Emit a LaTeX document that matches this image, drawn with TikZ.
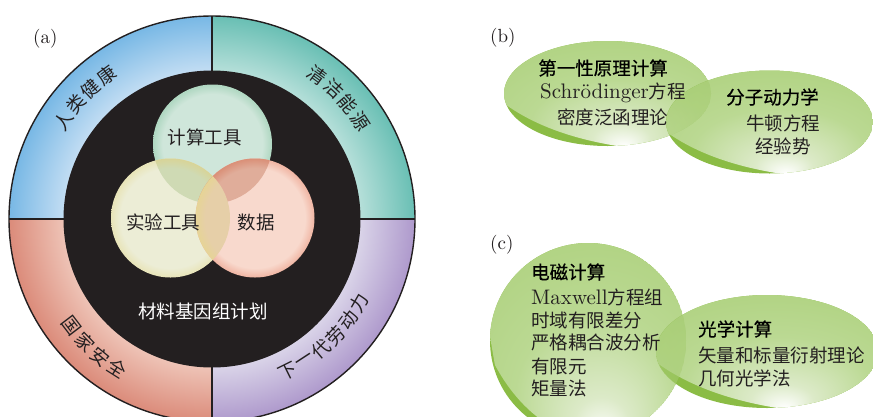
\documentclass[tikz,border=0pt]{standalone}
\usepackage{fontspec}
\newfontfamily\cjk{Noto Sans CJK SC}
\newfontfamily\cjkb{Noto Sans CJK SC}[FakeBold=0.5]
\newfontfamily\lat{lmroman10-regular}[Extension=.otf]
\usetikzlibrary{calc}
\definecolor{ink}{HTML}{231F20}
\definecolor{blueL}{HTML}{C2DDF3}\definecolor{blueD}{HTML}{78B8E5}
\definecolor{tealL}{HTML}{B5DFD9}\definecolor{tealD}{HTML}{69BFB4}
\definecolor{purpL}{HTML}{D9D3E8}\definecolor{purpD}{HTML}{AE99CC}
\definecolor{redL}{HTML}{EEC3B6}\definecolor{redD}{HTML}{DB8B7A}
\definecolor{gnI}{HTML}{CFE6DA}\definecolor{gnO}{HTML}{AFD7C1}
\definecolor{ylI}{HTML}{ECEDD6}\definecolor{ylO}{HTML}{E8E4B8}
\definecolor{pkI}{HTML}{F8D9CD}\definecolor{pkO}{HTML}{F0B5A3}
\definecolor{tlI}{HTML}{CFDAB4}\definecolor{tlO}{HTML}{D8D498}
\definecolor{trI}{HTML}{E0AD9A}\definecolor{trO}{HTML}{DA9078}
\definecolor{ctI}{HTML}{E6CFA8}\definecolor{ctO}{HTML}{E6D496}
\definecolor{leafA}{HTML}{A5CC70}\definecolor{leafB}{HTML}{BBD993}
\definecolor{leafC}{HTML}{DCEAC8}\definecolor{leafD}{HTML}{8BBC45}
\pgfdeclareradialshading{ringblue}{\pgfpoint{0bp}{0bp}}{color(0bp)=(blueL); color(18.25bp)=(blueL); color(25bp)=(blueD); color(50bp)=(blueD)}
\pgfdeclareradialshading{ringteal}{\pgfpoint{0bp}{0bp}}{color(0bp)=(tealL); color(18.25bp)=(tealL); color(25bp)=(tealD); color(50bp)=(tealD)}
\pgfdeclareradialshading{ringpurp}{\pgfpoint{0bp}{0bp}}{color(0bp)=(purpL); color(18.25bp)=(purpL); color(25bp)=(purpD); color(50bp)=(purpD)}
\pgfdeclareradialshading{ringred}{\pgfpoint{0bp}{0bp}}{color(0bp)=(redL); color(18.25bp)=(redL); color(25bp)=(redD); color(50bp)=(redD)}
\newcommand{\vennshade}[3]{\pgfdeclareradialshading{#1}{\pgfpoint{0bp}{0bp}}{color(0bp)=(#2); color(21bp)=(#2); color(25bp)=(#3); color(50bp)=(#3)}}
\vennshade{vgreen}{gnI}{gnO}
\vennshade{vyellow}{ylI}{ylO}
\vennshade{vpink}{pkI}{pkO}
\vennshade{vtl}{tlI}{tlO}
\vennshade{vtr}{trI}{trO}
\vennshade{vct}{ctI}{ctO}
\pgfdeclareradialshading{leafglow}{\pgfpoint{4bp}{-25bp}}{color(0bp)=(white); color(7bp)=(leafC); color(21bp)=(leafB); color(50bp)=(leafA)}
\tikzset{
  lab/.style={inner sep=0pt,text=ink,font=\fontsize{18.5}{18.5}\selectfont\cjk},
  head/.style={inner sep=0pt,text=black,font=\fontsize{18.5}{18.5}\selectfont\cjkb},
  tag/.style={inner sep=0pt,text=ink,font=\fontsize{19}{19}\selectfont\lat},
  ringch/.style={inner sep=0pt,text=ink,font=\fontsize{18.5}{18.5}\selectfont\cjk},
}
\newcommand{\latin}[1]{{\fontsize{21}{21}\selectfont\lat #1}}
\newcommand{\leaf}[4]{%
  \begin{scope}
    \clip (#1,#2) ellipse [x radius=#3,y radius=#4];
    \fill[leafD] (#1,#2) ellipse [x radius=#3,y radius=#4];
    \clip ($(#1,#2)+(-1.1*#3,0.03*#4)$) .. controls ($(#1,#2)+(-0.78*#3,0.58*#4)$) and ($(#1,#2)+(-0.33*#3,0.88*#4)$) .. ($(#1,#2)+(0.16*#3,1.02*#4)$)
      -- ($(#1,#2)+(1.2*#3,1.2*#4)$) -- ($(#1,#2)+(1.2*#3,-1.2*#4)$) -- ($(#1,#2)+(-1.2*#3,-1.2*#4)$) -- cycle;
    \shade[shading=leafglow] (#1,#2) ellipse [x radius=#3,y radius=#4];
  \end{scope}}
\newcommand{\roundleaf}[4]{%
  \begin{scope}
    \clip (#1,#2) ellipse [x radius=#3,y radius=#4];
    \fill[leafD] (#1,#2) ellipse [x radius=#3,y radius=#4];
    \clip ($(#1,#2)+(-0.95*#3,0.25*#4)$) .. controls ($(#1,#2)+(-0.70*#3,0.72*#4)$) and ($(#1,#2)+(-0.33*#3,0.98*#4)$) .. ($(#1,#2)+(0.03*#3,1.02*#4)$)
      -- ($(#1,#2)+(1.2*#3,1.2*#4)$) -- ($(#1,#2)+(1.2*#3,-1.2*#4)$) -- ($(#1,#2)+(-1.2*#3,-1.2*#4)$) -- cycle;
    \shade[shading=leafglow] (#1,#2) ellipse [x radius=#3,y radius=#4];
  \end{scope}}
\begin{document}
\begin{tikzpicture}[x=1pt,y=-1pt]
\useasboundingbox (0,0) rectangle (873,416);
\fill[white] (0,0) rectangle (873,416);
\coordinate (O) at (212,219);
% quadrants
\begin{scope}
  \clip (0,0) rectangle (212,219);
  \shade[shading=ringblue] (O) circle [radius=203];
\end{scope}
\begin{scope}
  \clip (212,0) rectangle (430,219);
  \shade[shading=ringteal] (O) circle [radius=203];
\end{scope}
\begin{scope}
  \clip (0,219) rectangle (212,430);
  \shade[shading=ringred] (O) circle [radius=203];
\end{scope}
\begin{scope}
  \clip (212,219) rectangle (430,430);
  \shade[shading=ringpurp] (O) circle [radius=203];
\end{scope}
\draw[ink,line width=1.4pt] (O) circle [radius=203];
\draw[ink,line width=1.4pt] (212,16) -- (212,422) (9,219) -- (415,219);
\fill[ink] (O) circle [radius=148.5];
% venn
\coordinate (T) at (212.5,144);
\coordinate (L) at (170.5,218);
\coordinate (R) at (255,218);
\shade[shading=vgreen] (T) circle [radius=59.5];
\shade[shading=vyellow] (L) circle [radius=59.5];
\shade[shading=vpink] (R) circle [radius=59.5];
\begin{scope}
  \clip (T) circle [radius=59.5];
  \shade[shading=vtl] (L) circle [radius=59.5];
\end{scope}
\begin{scope}
  \clip (T) circle [radius=59.5];
  \shade[shading=vtr] (R) circle [radius=59.5];
\end{scope}
\begin{scope}
  \clip (L) circle [radius=59.5];
  \shade[shading=vct] (R) circle [radius=59.5];
\end{scope}
\node[lab] (n1) at (204.5,137) {计算工具};
\node[lab] (n2) at (163,222) {实验工具};
\node[lab] (n3) at (256,222) {数据};
\node[lab,text=white] (n4) at (203,311) {材料基因组计划};
% ring labels
\foreach \c [count=\i from 0] in {人,类,健,康}
  \node[ringch,rotate=146.7-6.8*\i-90] (qa\i) at ($(O)+({178*cos(146.7-6.8*\i)},{-178*sin(146.7-6.8*\i)})$) {\c};
\foreach \c [count=\i from 0] in {清,洁,能,源}
  \node[ringch,rotate=53.7-6.8*\i-90] (qb\i) at ($(O)+({178*cos(53.7-6.8*\i)},{-178*sin(53.7-6.8*\i)})$) {\c};
\foreach \c [count=\i from 0] in {国,家,安,全}
  \node[ringch,rotate=217.3+6.8*\i+90] (qc\i) at ($(O)+({177*cos(217.3+6.8*\i)},{-177*sin(217.3+6.8*\i)})$) {\c};
\foreach \c [count=\i from 0] in {下,一,代,劳,动,力}
  \node[ringch,rotate=-63.6+6.76*\i+90] (qd\i) at ($(O)+({170*cos(-63.6+6.76*\i)},{-170*sin(-63.6+6.76*\i)})$) {\c};
\node[tag,anchor=west] (ta) at (33,39) {(a)};
\node[tag,anchor=west] (tb) at (490,38) {(b)};
\node[tag,anchor=west] (tc) at (490,245) {(c)};
% panel b
\leaf{607.5}{93.5}{103.5}{52.5}
\leaf{769.5}{122}{103.5}{51.5}
\begin{scope}
  \clip (769.5,122) ellipse [x radius=103.5,y radius=51.5];
  \begin{scope}[transparency group,opacity=.4]
    \leaf{607.5}{93.5}{103.5}{52.5}
  \end{scope}
  \fill[leafD,opacity=.22] (607.5,93.5) ellipse [x radius=103.5,y radius=52.5];
\end{scope}
\node[head] (b1) at (603,68) {第一性原理计算};
\node[lab,anchor=west] (b2) at (540,93) {\latin{Schrödinger}方程};
\node[lab] (b3) at (612.5,117) {密度泛函理论};
\node[head] (b4) at (772.5,97) {分子动力学};
\node[lab] (b5) at (783,123) {牛顿方程};
\node[lab] (b6) at (783,146) {经验势};
% panel c
\roundleaf{588}{340.5}{98}{97.5}
\leaf{767}{351.5}{111}{56.5}
\begin{scope}
  \clip (767,351.5) ellipse [x radius=111,y radius=56.5];
  \begin{scope}[transparency group,opacity=.4]
    \roundleaf{588}{340.5}{98}{97.5}
  \end{scope}
  \fill[leafD,opacity=.22] (588,340.5) ellipse [x radius=98,y radius=97.5];
\end{scope}
\node[head,anchor=west] (c1) at (531,272) {电磁计算};
\node[lab,anchor=west] (c2) at (531,297) {\latin{Maxwell}方程组};
\node[lab,anchor=west] (c3) at (531,320) {时域有限差分};
\node[lab,anchor=west] (c4) at (531,342) {严格耦合波分析};
\node[lab,anchor=west] (c5) at (531,366) {有限元};
\node[lab,anchor=west] (c6) at (531,388) {矩量法};
\node[head,anchor=west] (c7) at (698,329) {光学计算};
\node[lab,anchor=west] (c8) at (698,355) {矢量和标量衍射理论};
\node[lab,anchor=west] (c9) at (698,378) {几何光学法};
\end{tikzpicture}
\end{document}
